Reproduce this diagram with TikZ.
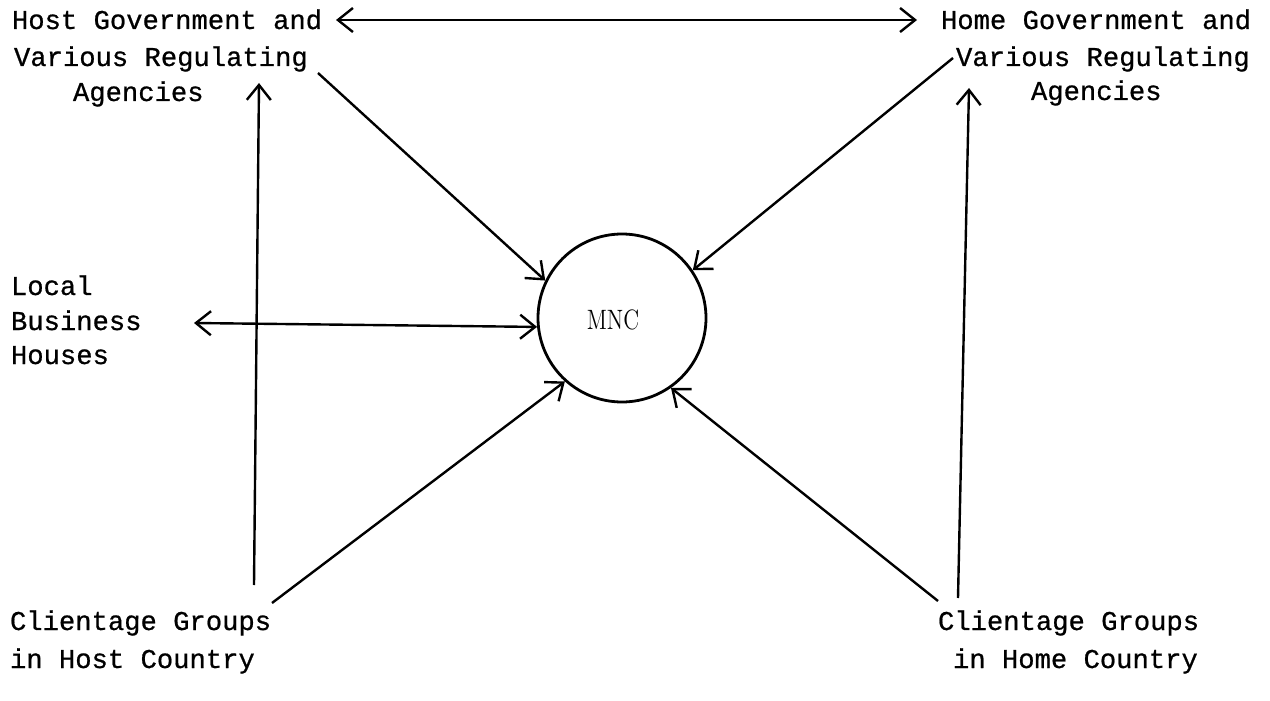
\documentclass[tikz,border=0pt]{standalone}
\usepackage{fontspec}
\setmonofont{Liberation Mono}[FakeBold=0.7]
\usetikzlibrary{arrows.meta}
\begin{document}
\begin{tikzpicture}[x=0.5pt,y=-0.5pt,
  lbl/.style={font=\ttfamily\fontsize{13.6}{15}\selectfont, anchor=base west, inner sep=0pt, outer sep=0pt},
  tip/.tip={Straight Barb[length=7.5pt,width=12pt]},
  conn/.style={line width=1.2pt, -tip},
  conn2/.style={line width=1.2pt, tip-tip},
  hub/.style={circle, draw, line width=1.4pt, minimum size=84pt, inner sep=0pt}]
\useasboundingbox (0,0) rectangle (1270,701);
% texts
\node[lbl] (hg1) at (12,29) {Host Government and};
\node[lbl] (hg2) at (14,66) {Various Regulating};
\node[lbl] (hg3) at (73,101) {Agencies};
\node[lbl] (og1) at (941,29) {Home Government and};
\node[lbl] (og2) at (956,66) {Various Regulating};
\node[lbl] (og3) at (1031,100) {Agencies};
\node[lbl] (lb1) at (11,295) {Local};
\node[lbl] (lb2) at (11,330) {Business};
\node[lbl] (lb3) at (11,364) {Houses};
\node[lbl] (ch1) at (10,630) {Clientage Groups};
\node[lbl] (ch2) at (10,668) {in Host Country};
\node[lbl] (co1) at (938,630) {Clientage Groups};
\node[lbl] (co2) at (953,668) {in Home Country};
% hub
\node[hub, label={[font=\fontsize{14}{16}\selectfont, xshift=-4.5pt, yshift=-1pt]center:\scalebox{0.8}[1]{MNC}}] (mnc) at (622,318) {};
% connector ends
\coordinate (tL) at (336,20);
\coordinate (tR) at (917,20);
\coordinate (hgS) at (318,73);
\coordinate (ogS) at (953,58);
\coordinate (lbE) at (194,323);
\coordinate (chS) at (272,603);
\coordinate (coS) at (938,601);
\coordinate (hvB) at (254,585);
\coordinate (hvT) at (259,83);
\coordinate (ovB) at (958,598);
\coordinate (ovT) at (969,88);
% connectors
\draw[conn2] (tL) -- (tR);
\draw[conn] (hgS) -- (mnc.154.7);
\draw[conn] (ogS) -- (mnc.34);
\draw[conn2] (lbE) -- (mnc.186);
\draw[conn] (chS) -- (mnc.228);
\draw[conn] (coS) -- (mnc.305);
\draw[conn] (hvB) -- (hvT);
\draw[conn] (ovB) -- (ovT);
\end{tikzpicture}
\end{document}
